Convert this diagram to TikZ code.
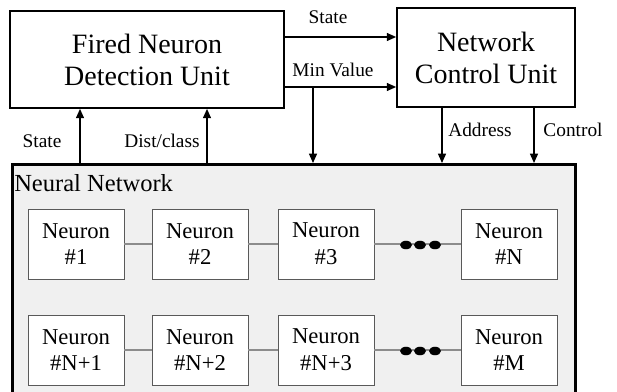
\documentclass[tikz,border=0pt]{standalone}
\usepackage{fontspec}
\setmainfont{Liberation Serif}
\usetikzlibrary{arrows.meta,positioning,shapes}

\tikzset{
  unit/.style={draw, line width=1.3pt, align=center, font=\fontsize{21}{24}\selectfont},
  netbox/.style={draw, fill=black!6, line width=2.4pt, anchor=north west, inner sep=0pt},
  neuron/.style={draw=black!65, fill=white, line width=0.7pt, minimum width=72pt, minimum height=52.5pt,
    align=center, inner sep=0pt, font=\fontsize{17}{20}\selectfont},
  link/.style={draw=black!45, line width=0.9pt},
  sig/.style={-{Triangle[length=7pt,width=6pt]}, line width=1pt},
  lbl/.style={font=\fontsize{14.5}{16}\selectfont, inner sep=0pt},
  blob/.style={ellipse, fill=black, minimum width=9pt, minimum height=6.4pt, inner sep=0pt}
}

\begin{document}
\begin{tikzpicture}[x=0.75pt,y=-0.75pt]
    \clip (0,0) rectangle (617,392);
    % Control blocks
    \node[unit, minimum width=205.5pt, minimum height=72.75pt] (detect) at (147,59.5) {Fired Neuron\\Detection Unit};
    \node[unit, minimum width=133.5pt, minimum height=74.25pt] (control) at (486,57.5) {Network\\Control Unit};
    % Neural network container
    \node[netbox, minimum width=422.25pt, minimum height=200pt] (net) at (11,163) {};
    \node[anchor=west, inner sep=0pt, font=\fontsize{18.4}{20}\selectfont] (netname) at (14,183) {Neural Network};
    % Neurons, first row
    \node[neuron] (n1) at (76,244) {Neuron\\\#1};
    \node[neuron] (n2) at (200,244) {Neuron\\\#2};
    \node[neuron] (n3) at (326,244) {Neuron\\\#3};
    \node[neuron] (n4) at (509,244) {Neuron\\\#N};
    % Neurons, second row
    \node[neuron] (m1) at (76,350) {Neuron\\\#N+1};
    \node[neuron] (m2) at (200,350) {Neuron\\\#N+2};
    \node[neuron] (m3) at (326,350) {Neuron\\\#N+3};
    \node[neuron] (m4) at (509,350) {Neuron\\\#M};
    % Links between neurons
    \draw[link] (n1) -- (n2);
    \draw[link] (n2) -- (n3);
    \draw[link] (n3) -- (n4);
    \draw[link] (m1) -- (m2);
    \draw[link] (m2) -- (m3);
    \draw[link] (m3) -- (m4);
    % Ellipsis dots
    \node[blob] (a1) at (406,245) {};
    \node[blob] (a2) at (420,245) {};
    \node[blob] (a3) at (435,245) {};
    \node[blob] (b1) at (406,351) {};
    \node[blob] (b2) at (420,351) {};
    \node[blob] (b3) at (435,351) {};
    % Signals between the blocks
    \coordinate (split) at (313,87);
    \draw[sig] (detect.east |- 0,37) -- (control.west |- 0,37);
    \draw[sig] (detect.east |- split) -- (control.west |- split);
    \draw[sig] (split) -- (net.north -| split);
    \draw[sig] (control.south -| 442,0) -- (net.north -| 442,0);
    \draw[sig] (control.south -| 534,0) -- (net.north -| 534,0);
    \draw[sig] (net.north -| 80,0) -- (detect.south -| 80,0);
    \draw[sig] (net.north -| 207,0) -- (detect.south -| 207,0);
    % Signal names
    \node[lbl] (lstate) at (328,17) {State};
    \node[lbl] (lmin) at (333,70) {Min Value};
    \node[lbl] (laddr) at (480,130) {Address};
    \node[lbl] (lctrl) at (573,130) {Control};
    \node[lbl] (lfire) at (42,141) {State};
    \node[lbl] (ldist) at (162,141) {Dist/class};
\end{tikzpicture}
\end{document}
